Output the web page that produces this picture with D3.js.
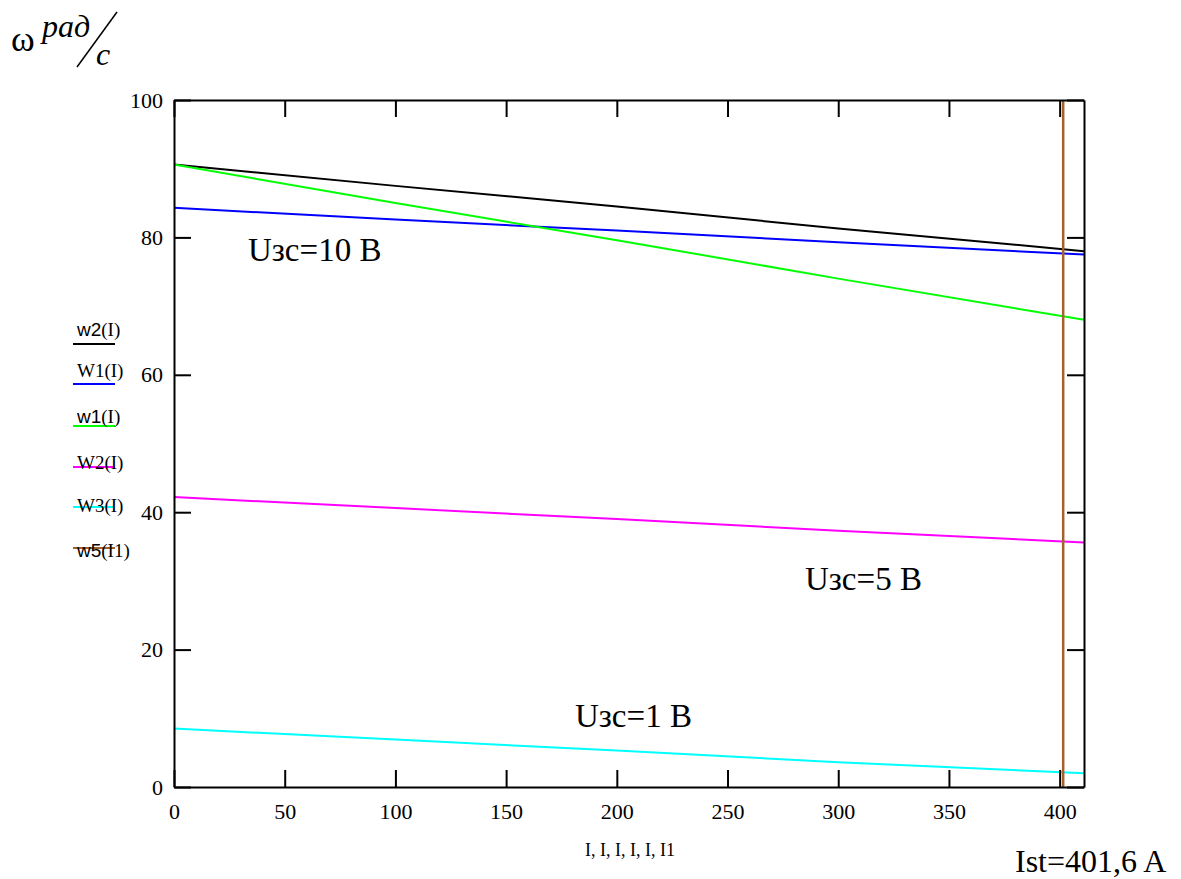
<!DOCTYPE html>
<html>
<head>
<meta charset="utf-8">
<script src="https://cdn.jsdelivr.net/npm/d3@7"></script>
<style type="text/css">
	body { margin:0; background:#fff; }
	svg text { font-family: "Liberation Serif", "Times New Roman", serif; }
</style>
</head>
<body>
<svg id="chart" width="1181" height="879"></svg>
<script type="text/javascript">
	// values
	var I = [0, 100, 200, 300, 411];
	var w2 = [90.6, 87.5, 84.5, 81.3, 78.0];
	var W1 = [84.3, 82.6, 81.0, 79.3, 77.5];
	var w1 = [90.6, 85.0, 79.6, 74.0, 68.0];
	var W2 = [42.2, 40.6, 39.0, 37.3, 35.6];
	var W3 = [8.5, 6.9, 5.3, 3.6, 2.0];
	var I1 = [401.6, 401.6];
	var w5 = [0, 100];

	var xTicks = [0, 50, 100, 150, 200, 250, 300, 350, 400];
	var yTicks = [0, 20, 40, 60, 80, 100];

	var series = [
		{name:"w2", arg:"(I)", sans:true,  x:I,  y:w2, color:"#000000"},
		{name:"W1", arg:"(I)", sans:false, x:I,  y:W1, color:"#0000ff"},
		{name:"w1", arg:"(I)", sans:true,  x:I,  y:w1, color:"#00ff00"},
		{name:"W2", arg:"(I)", sans:false, x:I,  y:W2, color:"#ff00ff"},
		{name:"W3", arg:"(I)", sans:false, x:I,  y:W3, color:"#00ffff"},
		{name:"w5", arg:"(I1)", sans:true, x:I1, y:w5, color:"#a5612a"}
	];

	var svg = d3.select("#chart"),
	    margin = {top: 100, right: 97, bottom: 92, left: 174},
	    width = 1181 - margin.left - margin.right,
	    height = 879 - margin.top - margin.bottom;

	var x = d3.scaleLinear().domain([0, 411]).range([0, width]),
	    y = d3.scaleLinear().domain([0, 100]).range([height, 0]);

	var g = svg.append("g")
	    .attr("transform", "translate(" + margin.left + "," + margin.top + ")");

	// lines
	var line = d3.line();
	series.forEach(function(s){
		g.append("path")
		  .datum(s.x.map(function(v,i){ return [x(v), y(s.y[i])]; }))
		  .attr("fill","none")
		  .attr("stroke", s.color)
		  .attr("stroke-width", s.name=="w5" ? 2.5 : 2)
		  .attr("d", line);
	});

	// axes, ticks drawn inward like mathcad
	var tl = 17;
	function labels(a){
		a.attr("font-size",22).attr("font-family","Liberation Serif");
		a.selectAll("text").attr("fill","#000");
	}
	g.append("g").attr("transform","translate(0," + height + ")")
	  .call(d3.axisBottom(x).tickValues(xTicks).tickSizeInner(-tl).tickSizeOuter(0).tickPadding(16))
	  .call(labels);
	g.append("g")
	  .call(d3.axisTop(x).tickValues(xTicks).tickSizeInner(-tl).tickSizeOuter(0).tickFormat(""));
	g.append("g")
	  .call(d3.axisLeft(y).tickValues(yTicks).tickSizeInner(-tl).tickSizeOuter(0).tickPadding(11))
	  .call(labels);
	g.append("g").attr("transform","translate(" + width + ",0)")
	  .call(d3.axisRight(y).tickValues(yTicks).tickSizeInner(-tl).tickSizeOuter(0).tickFormat(""));
	g.selectAll(".domain, .tick line").attr("stroke","#000").attr("stroke-width",2);

	// legend
	var legY = [344, 384, 426, 467, 507, 548],
	    legText = [336, 377, 423, 469, 512, 557];
	series.forEach(function(s,i){
		svg.append("line").attr("x1",73).attr("x2",115)
		  .attr("y1",legY[i]).attr("y2",legY[i])
		  .attr("stroke",s.color).attr("stroke-width",2);
		var t = svg.append("text").attr("x",77).attr("y",legText[i]).attr("font-size",19).attr("fill","#000");
		t.append("tspan").attr("font-family", s.sans ? "Liberation Sans" : "Liberation Serif").text(s.name);
		t.append("tspan").text(s.arg);
	});

	// labels
	svg.append("text").attr("x",11).attr("y",51).attr("font-size",36).text("ω");
	svg.append("text").attr("x",42).attr("y",37).attr("font-size",32).attr("font-style","italic").text("рад");
	svg.append("line").attr("x1",77).attr("y1",67).attr("x2",117).attr("y2",12).attr("stroke","#000").attr("stroke-width",1.5);
	svg.append("text").attr("x",96).attr("y",65).attr("font-size",32).attr("font-style","italic").text("с");

	var notes = [
		{t:"Uзс=10 В", x:248, y:261},
		{t:"Uзс=5 В", x:805, y:590},
		{t:"Uзс=1 В", x:575, y:727}
	];
	notes.forEach(function(n){
		svg.append("text").attr("x",n.x).attr("y",n.y).attr("font-size",33).text(n.t);
	});
	svg.append("text").attr("x",1015).attr("y",872).attr("font-size",32).text("Ist=401,6 A");
	svg.append("text").attr("x",585).attr("y",856).attr("font-size",18).text("I, I, I, I, I, I1");
</script>
</body>
</html>
